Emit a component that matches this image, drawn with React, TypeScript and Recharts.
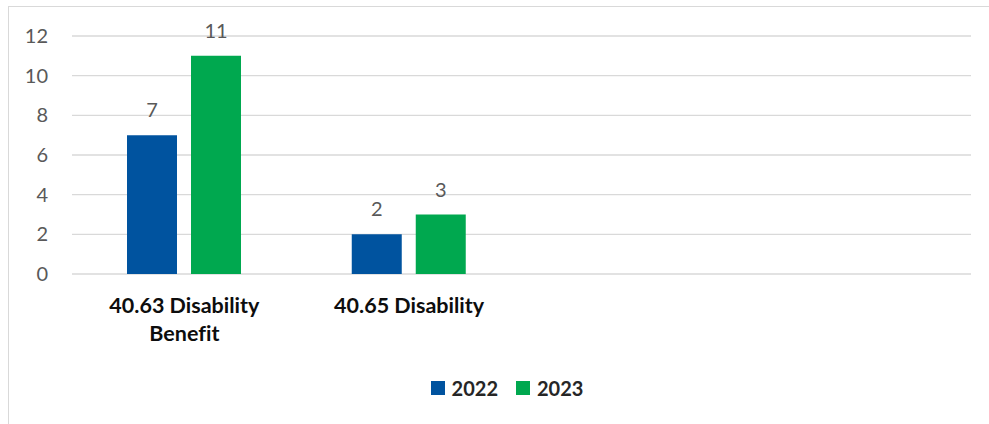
import { BarChart, Bar, XAxis, YAxis, CartesianGrid, Legend, LabelList } from "recharts";

const categories = ["40.63 Disability Benefit", "40.65 Disability", " ", "  "];
const series2022 = [7, 2, null, null];
const series2023 = [11, 3, null, null];
const yTicks = [0, 2, 4, 6, 8, 10, 12];

const BLUE = "#00539F";
const GREEN = "#00A84F";
const FONT = "Lato, 'Liberation Sans', sans-serif";

const data = categories.map((name, i) => ({
  name,
  y2022: series2022[i],
  y2023: series2023[i],
}));

// greedy word wrap by character count, the way Excel breaks these labels
const wrapLabel = (label: string, maxChars: number) => {
  const lines: string[] = [];
  let cur = "";
  label.split(" ").forEach((w) => {
    const next = cur ? cur + " " + w : w;
    if (next.length > maxChars && cur) {
      lines.push(cur);
      cur = w;
    } else {
      cur = next;
    }
  });
  if (cur) lines.push(cur);
  return lines;
};

const CategoryTick = ({ x, y, payload }: any) => {
  if (!payload || !payload.value || !payload.value.trim()) return null;
  const lines = wrapLabel(payload.value, 16);
  return (
    <text
      x={x}
      y={y + 39}
      textAnchor="middle"
      fontFamily={FONT}
      fontSize={21.5}
      fontWeight={700}
      fill="#0d0d0d"
      style={{ fontVariantLigatures: "none" }}
    >
      {lines.map((line, i) => (
        <tspan key={i} x={x} dy={i ? 28 : 0}>
          {line}
        </tspan>
      ))}
    </text>
  );
};

const LegendBox = () => (
  <div
    style={{
      height: 44,
      display: "flex",
      justifyContent: "center",
      alignItems: "flex-start",
      paddingTop: 5,
      paddingLeft: 34,
      boxSizing: "border-box",
      fontFamily: FONT,
      fontSize: 20,
      fontWeight: 700,
      color: "#262626",
    }}
  >
    {[
      { label: "2022", color: BLUE },
      { label: "2023", color: GREEN },
    ].map((item, i) => (
      <div key={item.label} style={{ display: "flex", alignItems: "center", height: 24, marginLeft: i ? 18 : 0 }}>
        <span style={{ width: 14, height: 14, background: item.color, marginRight: 7 }} />
        <span>{item.label}</span>
      </div>
    ))}
  </div>
);

const App = () => {
  return (
    <div
      style={{
        position: "fixed",
        top: 6,
        left: 8,
        width: 981,
        height: 420,
        borderTop: "1px solid #d9d9d9",
        borderLeft: "1px solid #d9d9d9",
        background: "#fff",
      }}
    >
      <BarChart
        width={980}
        height={408}
        data={data}
        margin={{ top: 29, right: 18, left: 0, bottom: 0 }}
        barCategoryGap={55}
        barGap={14}
      >
        <CartesianGrid vertical={false} stroke="#d9d9d9" strokeWidth={1.3} />
        <XAxis
          dataKey="name"
          height={97}
          axisLine={false}
          tickLine={false}
          tickSize={0}
          tickMargin={0}
          interval={0}
          tick={<CategoryTick />}
        />
        <YAxis
          width={63}
          domain={[0, 12]}
          ticks={yTicks}
          axisLine={false}
          tickLine={false}
          tickSize={0}
          tickMargin={24}
          tick={{ fill: "#595959", fontSize: 20, fontFamily: FONT }}
        />
        <Legend verticalAlign="bottom" height={44} content={<LegendBox />} />
        <Bar dataKey="y2022" name="2022" fill={BLUE} isAnimationActive={false}>
          <LabelList dataKey="y2022" position="top" offset={18} fill="#595959" fontSize={20} fontFamily={FONT} />
        </Bar>
        <Bar dataKey="y2023" name="2023" fill={GREEN} isAnimationActive={false}>
          <LabelList dataKey="y2023" position="top" offset={18} fill="#595959" fontSize={20} fontFamily={FONT} />
        </Bar>
      </BarChart>
    </div>
  );
};

export default App;
